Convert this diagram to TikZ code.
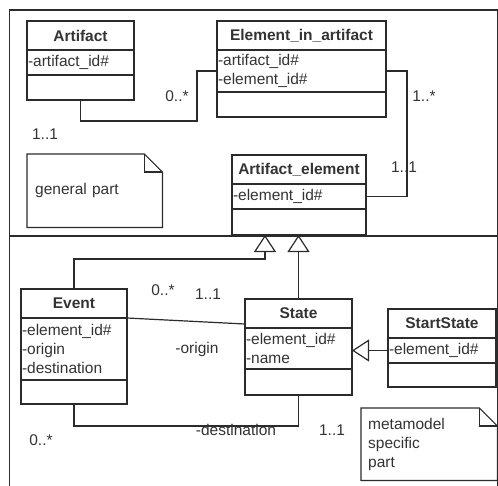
\documentclass[tikz,border=0pt]{standalone}
\usepackage{fontspec}
\setmainfont{Liberation Sans}
\usetikzlibrary{arrows.meta,positioning,calc}
\definecolor{edge}{HTML}{2B2B2B}
\definecolor{ink}{HTML}{333333}
\newcommand\umlsize{\fontsize{15.5}{19}\selectfont}
\tikzset{every node/.style={font=\umlsize,text=ink},
head/.style={draw=edge,line width=1.2pt,outer sep=0pt,inner sep=0pt,minimum height=29pt,anchor=north west,font=\umlsize\bfseries},
attr/.style={draw=edge,line width=1.2pt,outer sep=0pt,inner xsep=1pt,inner ysep=0pt,align=left},
mult/.style={inner sep=1pt},
memo/.style={inner ysep=0pt,anchor=north west,align=left},
assoc/.style={draw=edge,line width=1.2pt},
gen/.style={assoc,-{Triangle[length=17pt,width=22pt,fill=white]}}}

\begin{document}
\begin{tikzpicture}[x=1pt,y=-1pt]
\useasboundingbox (0,0) rectangle (498,485);
% general part
\node[head,minimum width=107pt] (art) at (27,21) {Artifact};
\node[attr,text width=105pt,minimum height=25pt,below=0pt of art] (art-a) {-artifact\_id\#};
\node[attr,text width=105pt,minimum height=25pt,below=0pt of art-a] (art-o) {};
\node[head,minimum width=169pt] (eia) at (217,21) {Element\_in\_artifact};
\node[attr,text width=167pt,minimum height=42pt,below=0pt of eia] (eia-a) {-artifact\_id\#\\-element\_id\#};
\node[attr,text width=167pt,minimum height=25pt,below=0pt of eia-a] (eia-o) {};
\node[head,minimum width=134pt] (ae) at (232,155) {Artifact\_element};
\node[attr,text width=132pt,minimum height=25pt,below=0pt of ae] (ae-a) {-element\_id\#};
\node[attr,text width=132pt,minimum height=26pt,below=0pt of ae-a] (ae-o) {};
\node[memo,inner xsep=8pt,text width=119pt,minimum height=73pt] (note1) at (27,154) {general part};
\draw[assoc] (note1.south west) |- ($(note1.north east)+(-18,0)$) -- ($(note1.north east)+(0,18)$) -- (note1.south east) -- cycle;
\draw[assoc] ($(note1.north east)+(-18,0)$) |- ($(note1.north east)+(0,18)$);
% metamodel specific part
\node[head,minimum width=106pt] (ev) at (21,289) {Event};
\node[attr,text width=104pt,minimum height=62pt,below=0pt of ev] (ev-a) {-element\_id\#\\-origin\\-destination};
\node[attr,text width=104pt,minimum height=24pt,below=0pt of ev-a] (ev-o) {};
\node[head,minimum width=107pt] (st) at (245,299) {State};
\node[attr,text width=105pt,minimum height=41pt,below=0pt of st] (st-a) {-element\_id\#\\-name};
\node[attr,text width=105pt,minimum height=26pt,below=0pt of st-a] (st-o) {};
\node[head,minimum width=108pt] (ss) at (388,309) {StartState};
\node[attr,text width=106pt,minimum height=25pt,below=0pt of ss] (ss-a) {-element\_id\#};
\node[attr,text width=106pt,minimum height=24pt,below=0pt of ss-a] (ss-o) {};
\node[memo,inner xsep=7pt,text width=122pt,minimum height=72pt] (note2) at (361,408) {metamodel\\specific\\part};
\draw[assoc] (note2.south west) |- ($(note2.north east)+(-18,0)$) -- ($(note2.north east)+(0,18)$) -- (note2.south east) -- cycle;
\draw[assoc] ($(note2.north east)+(-18,0)$) |- ($(note2.north east)+(0,18)$);
% frame
\draw[draw=edge,line width=1.3pt] (9.5,490) |- (497.5,10) -- (497.5,490);
\draw[draw=edge,line width=2.6pt] (9.5,236) -- (498,236);
% connectors
\coordinate (abend) at (197,121);
\coordinate (ebend) at (407,130);
\coordinate (gbend) at (265,259);
\draw[assoc] (art-o.south) |- (abend) |- (eia-a.west);
\draw[assoc] (eia-a.east) -| (ebend) |- (ae-a.east);
\draw[gen] (ev.north) |- (gbend) -- (gbend |- ae-o.south);
\draw[gen] (st.north) -- (st.north |- ae-o.south);
\draw[gen] (ss-a.west) -- (ss-a.west -| st-a.east);
\draw[assoc] (ev-a.north east) -- ($(st-a.north west)+(0,-4)$);
\draw[assoc] (ev-o.south) |- ($(st-o.south)+(0,31)$) -- (st-o.south);
% multiplicities and roles
\node[mult] (m1) at (177,96) {0..*};
\node[mult] (m2) at (45,134) {1..1};
\node[mult] (m3) at (424,96) {1..*};
\node[mult] (m4) at (404,167) {1..1};
\node[mult] (m5) at (163,290) {0..*};
\node[mult] (m6) at (208,294) {1..1};
\node[mult] (r1) at (197,349) {-origin};
\node[mult] (m7) at (41,440) {0..*};
\node[mult] (r2) at (236,430) {-destination};
\node[mult] (m8) at (332,430) {1..1};
\end{tikzpicture}
\end{document}
